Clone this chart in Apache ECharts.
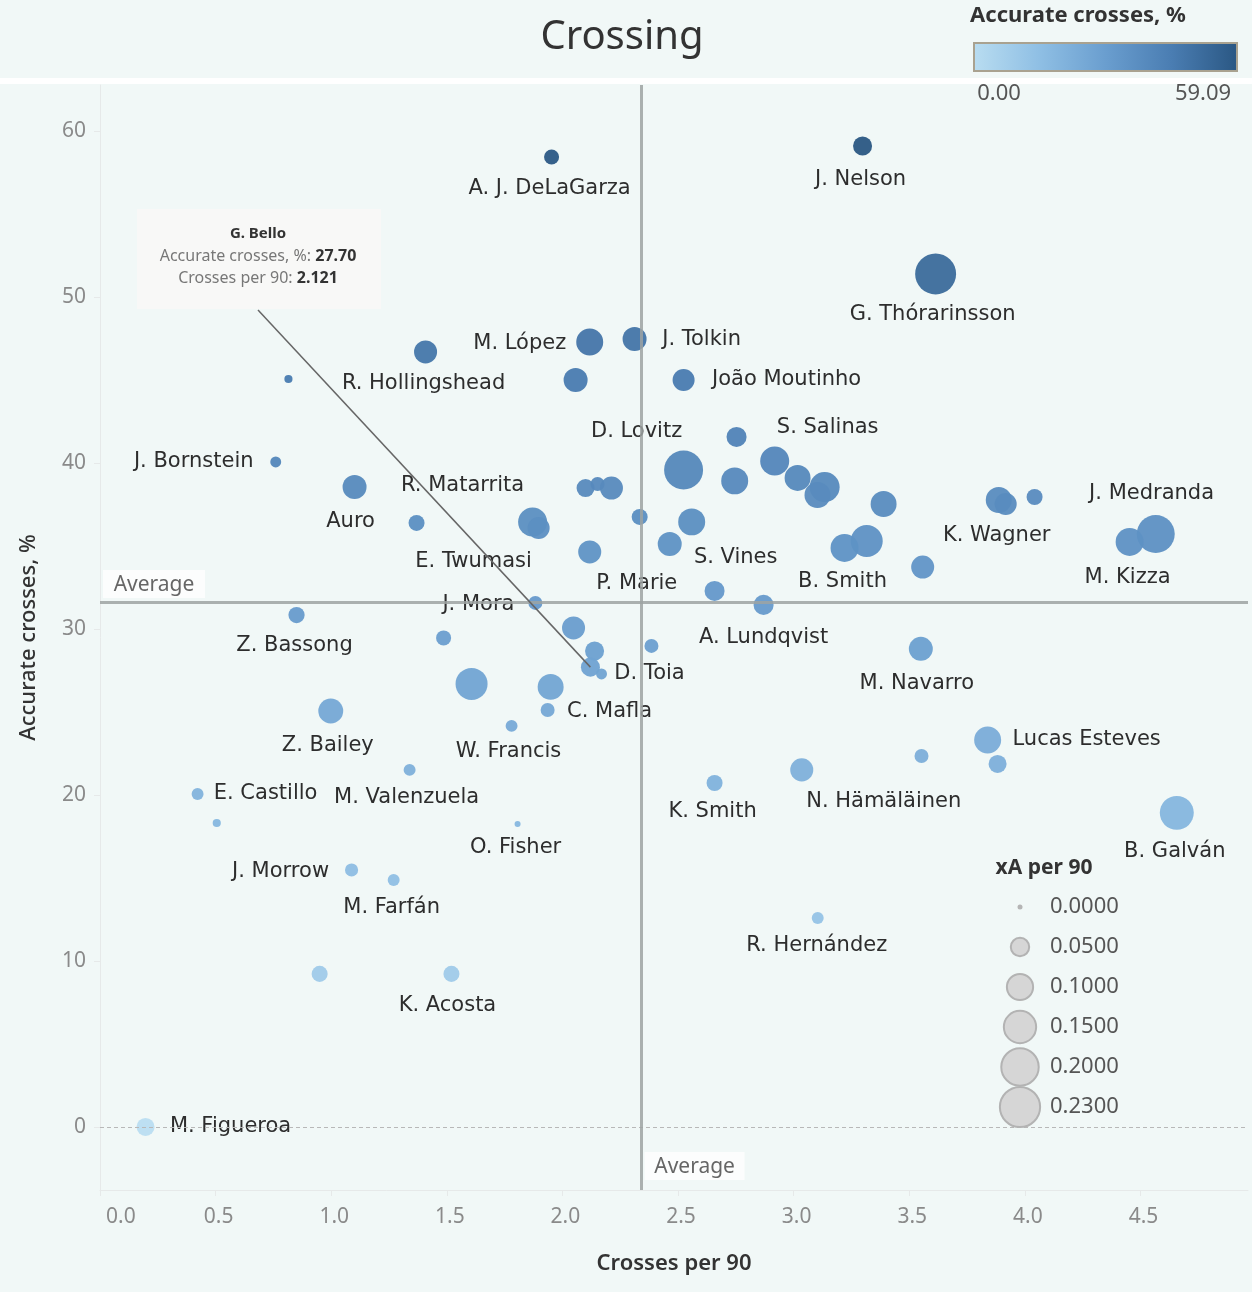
<!DOCTYPE html>
<html><head><meta charset="utf-8">
<script src="https://cdn.jsdelivr.net/npm/echarts@6/dist/echarts.min.js"></script>
<style>html,body{margin:0;padding:0;background:#f1f8f7}#c{width:1252px;height:1292px}</style>
</head><body><div id="c"></div>
<script>
// ---------- DATA ----------
const players = ['A. J. DeLaGarza','J. Nelson','G. Thórarinsson','M. López','J. Tolkin','R. Hollingshead','','','João Moutinho','',
 'D. Lovitz','','S. Salinas','','','','','','K. Wagner','J. Medranda',
 '','M. Kizza','','B. Smith','','S. Vines','','','A. Lundqvist','',
 'J. Bornstein','Auro','E. Twumasi','R. Matarrita','','','','','P. Marie','J. Mora',
 'Z. Bassong','','','','G. Bello','D. Toia','','','','C. Mafla',
 'W. Francis','Z. Bailey','M. Valenzuela','E. Castillo','','O. Fisher','J. Morrow','M. Farfán','','K. Acosta',
 'M. Figueroa','M. Navarro','Lucas Esteves','','','N. Hämäläinen','K. Smith','B. Galván','R. Hernández'];
const crossesPer90 = [1.953,3.298,3.614,2.118,2.312,1.408,0.815,2.057,2.524,2.753,
 2.524,2.745,2.918,3.017,3.134,3.103,3.389,3.887,3.917,4.042,
 4.566,4.453,3.316,3.220,3.558,2.559,2.464,2.658,2.870,2.334,
 0.760,1.101,1.369,2.100,2.152,2.212,1.871,1.897,2.118,1.883,
 0.850,1.486,2.048,2.139,2.121,2.169,2.385,1.607,1.949,1.936,
 1.780,0.998,1.339,0.422,0.505,1.806,1.088,1.270,0.950,1.520,
 0.197,3.550,3.839,3.882,3.553,3.035,2.658,4.657,3.104];
const accuracyPct = [58.43,59.09,51.39,47.29,47.47,46.69,45.06,45.00,45.00,41.57,
 39.58,38.92,40.12,39.10,38.55,38.07,37.53,37.77,37.53,37.95,
 35.72,35.24,35.30,34.88,33.73,36.45,35.12,32.29,31.45,36.75,
 40.06,38.55,36.39,38.49,38.73,38.49,36.45,36.08,34.64,31.57,
 30.84,29.46,30.06,28.67,27.70,27.29,28.98,26.69,26.51,25.12,
 24.16,25.06,21.51,20.06,18.31,18.25,15.48,14.88,9.22,9.22,
 0.00,28.80,23.31,21.87,22.35,21.51,20.72,18.92,12.59];
const xaPer90 = [0.025,0.043,0.216,0.091,0.071,0.065,0.004,0.071,0.059,0.048,
 0.195,0.091,0.106,0.084,0.114,0.084,0.084,0.084,0.059,0.029,
 0.185,0.098,0.130,0.098,0.065,0.091,0.071,0.048,0.048,0.029,
 0.011,0.071,0.029,0.038,0.021,0.065,0.106,0.059,0.065,0.021,
 0.030,0.025,0.065,0.043,0.043,0.011,0.021,0.130,0.084,0.021,
 0.014,0.077,0.014,0.014,0.004,0.000,0.018,0.014,0.029,0.029,
 0.038,0.071,0.091,0.038,0.021,0.065,0.029,0.147,0.014];
const xTicks = [0,0.5,1,1.5,2,2.5,3,3.5,4,4.5];
const yTicks = [0,10,20,30,40,50,60];
const sizeLegendValues = [0,0.05,0.1,0.15,0.2,0.23];
const sizeLegendLabels = ['0.0000','0.0500','0.1000','0.1500','0.2000','0.2300'];
const averageCrosses = 2.338;
const averageAccuracy = 31.63;
const colorMin = 0, colorMax = 59.09;
const colorLabels = ['0.00','59.09'];
const highlightName = 'G. Bello';

// ---------- STYLE / LAYOUT ----------
const colors = ['#b9ddf1','#8fbfe4','#6a9ecf','#4a7db2','#2a5783'];
const FONT = 'Noto Sans';
const LABEL_FONT = 'DejaVu Sans';
const labelOffsets = {
 'A. J. DeLaGarza':[-2,32],'J. Nelson':[-2,33],'G. Thórarinsson':[-3,41],'M. López':[-70,2],
 'J. Tolkin':[67,1],'R. Hollingshead':[-2,32],'João Moutinho':[103,0],'D. Lovitz':[-47,-38],
 'S. Salinas':[53,-33],'K. Wagner':[-9,32],'J. Medranda':[117,-3],'M. Kizza':[-2,36],
 'B. Smith':[-2,34],'S. Vines':[44,36],'A. Lundqvist':[0,33],'J. Bornstein':[-82,0],
 'Auro':[-4,35],'E. Twumasi':[57,39],'R. Matarrita':[-123,-2],'P. Marie':[47,32],
 'J. Mora':[-57,2],'Z. Bassong':[-2,31],'D. Toia':[48,0],'C. Mafla':[62,2],
 'W. Francis':[-3,26],'Z. Bailey':[-3,35],'M. Valenzuela':[-3,28],'E. Castillo':[68,0],
 'O. Fisher':[-2,24],'J. Morrow':[-71,2],'M. Farfán':[-2,28],'K. Acosta':[-4,32],
 'M. Figueroa':[85,0],'M. Navarro':[-4,35],'Lucas Esteves':[99,0],'N. Hämäläinen':[82,32],
 'K. Smith':[-2,29],'B. Galván':[-2,39],'R. Hernández':[-1,28]
};
const sizeOf = v => Math.sqrt(36 + 7600 * v);

const data = players.map((n, i) => ({
  name: n,
  value: [crossesPer90[i], accuracyPct[i], xaPer90[i]],
  label: { show: !!labelOffsets[n] }
}));
const hiIdx = players.indexOf(highlightName);

const chart = echarts.init(document.getElementById('c'), null, { renderer: 'canvas' });

const graphics = [
  { type: 'rect', shape: { x: 0, y: 78, width: 1252, height: 6 }, style: { fill: '#ffffff' }, z: 10 },
  { type: 'text', x: 622, y: 38, style: { text: 'Crossing', font: '40px "' + FONT + '"', fill: '#333', align: 'center', verticalAlign: 'middle' }, z: 10 },
  { type: 'text', x: 1078, y: 16, style: { text: 'Accurate crosses, %', font: 'bold 22px "' + FONT + '"', fill: '#333', align: 'center', verticalAlign: 'middle' }, z: 10 },
  { type: 'rect', shape: { x: 974, y: 43, width: 263, height: 28 }, style: {
      fill: new echarts.graphic.LinearGradient(0, 0, 1, 0, colors.map((c, i) => ({ offset: i / (colors.length - 1), color: c }))),
      stroke: '#a9a290', lineWidth: 2 }, z: 10 },
  { type: 'text', x: 999, y: 94, style: { text: colorLabels[0], font: '22px "' + FONT + '"', fill: '#555', align: 'center', verticalAlign: 'middle' }, z: 10 },
  { type: 'text', x: 1203, y: 94, style: { text: colorLabels[1], font: '22px "' + FONT + '"', fill: '#555', align: 'center', verticalAlign: 'middle' }, z: 10 },
  { type: 'text', x: 1044, y: 868, style: { text: 'xA per 90', font: 'bold 21px "' + FONT + '"', fill: '#333', align: 'center', verticalAlign: 'middle' }, z: 10 }
];
sizeLegendValues.forEach((v, i) => {
  const cy = 907 + 40 * i;
  const d = sizeOf(v);
  graphics.push({ type: 'circle', shape: { cx: 1020, cy: cy, r: Math.max(d / 2 - 1, 2.5) },
    style: v === 0 ? { fill: '#b5b5b5' } : { fill: '#d6d6d6', stroke: '#b3b3b3', lineWidth: 2 }, z: 10 });
  graphics.push({ type: 'text', x: 1050, y: cy, style: { text: sizeLegendLabels[i], font: '22px "' + FONT + '"', fill: '#555', align: 'left', verticalAlign: 'middle' }, z: 10 });
});
// annotation box
graphics.push({ type: 'rect', shape: { x: 137, y: 209, width: 244, height: 100 }, style: { fill: '#f8f8f7' }, z: 20 });
graphics.push({ type: 'text', x: 258, y: 256, z: 21, style: {
  text: '{n|' + highlightName + '}\n{k|Accurate crosses, %: }{v|' + accuracyPct[hiIdx].toFixed(2) + '}\n{k|Crosses per 90: }{v|' + crossesPer90[hiIdx].toFixed(3) + '}',
  align: 'center', verticalAlign: 'middle',
  rich: {
    n: { font: 'bold 15px "' + FONT + '"', fill: '#333', lineHeight: 22, align: 'center' },
    k: { font: '16px "' + FONT + '"', fill: '#777', lineHeight: 22 },
    v: { font: 'bold 16px "' + FONT + '"', fill: '#333', lineHeight: 22 }
  } } });

const option = {
  backgroundColor: '#f1f8f7',
  animation: false,
  textStyle: { fontFamily: FONT },
  grid: { left: 100, right: 4, top: 85, bottom: 102, containLabel: false },
  xAxis: {
    type: 'value', min: 0, max: 4.965,
    name: 'Crosses per 90', nameLocation: 'middle', nameGap: 63,
    nameTextStyle: { fontSize: 22, color: '#333', fontWeight: 600, fontFamily: FONT },
    splitLine: { show: false },
    axisLine: { show: true, onZero: false, lineStyle: { color: '#e6e9e9', width: 1 } },
    axisTick: { show: true, customValues: xTicks, length: 6, lineStyle: { color: '#e6e9e9' } },
    axisLabel: { customValues: xTicks, formatter: v => v.toFixed(1), color: '#8a8a8a', fontSize: 21, margin: 17, alignMinLabel: 'left', padding: [0, 0, 0, 6], fontFamily: FONT }
  },
  yAxis: {
    type: 'value', min: -3.8, max: 62.77,
    name: 'Accurate crosses, %', nameLocation: 'middle', nameGap: 60, nameRotate: 90,
    nameTextStyle: { fontSize: 22, color: '#333', fontWeight: 500, fontFamily: FONT },
    splitLine: { show: false },
    axisLine: { show: true, onZero: false, lineStyle: { color: '#e6e9e9', width: 1 } },
    axisTick: { show: true, customValues: yTicks, length: 6, lineStyle: { color: '#e6e9e9' } },
    axisLabel: { customValues: yTicks, formatter: v => String(v), color: '#8a8a8a', fontSize: 21, margin: 14, fontFamily: FONT }
  },
  visualMap: { show: false, type: 'continuous', seriesIndex: 0, dimension: 1, min: colorMin, max: colorMax, inRange: { color: colors } },
  series: [
    {
      type: 'scatter', z: 2,
      data: data,
      symbolSize: v => sizeOf(v[2]),
      itemStyle: { opacity: 0.95 },
      label: { position: 'inside', formatter: p => p.name, color: '#222', fontSize: 21, fontFamily: LABEL_FONT, textBorderWidth: 0 },
      labelLayout: p => {
        const off = labelOffsets[players[p.dataIndex]] || [0, 0];
        return {
          x: p.rect.x + p.rect.width / 2 + off[0],
          y: p.rect.y + p.rect.height / 2 + off[1],
          align: 'center', verticalAlign: 'middle', hideOverlap: false
        };
      },
      emphasis: { disabled: true }
    },
    {
      type: 'scatter', z: 5, data: [], silent: true,
      markLine: {
        silent: true, symbol: 'none', animation: false,
        label: { show: false },
        data: [
          { yAxis: 0, lineStyle: { color: '#b8b8b8', width: 1, type: [4, 3] } },
          { yAxis: averageAccuracy, lineStyle: { color: '#9ea3a2', width: 3, type: 'solid', opacity: 0.85 } },
          { xAxis: averageCrosses, lineStyle: { color: '#9ea3a2', width: 3, type: 'solid', opacity: 0.85 } },
          [ { coord: [crossesPer90[hiIdx], accuracyPct[hiIdx]], lineStyle: { color: '#666', width: 1.5, type: 'solid' } }, { x: 258, y: 310 } ]
        ]
      }
    }
  ],
  graphic: graphics
};
chart.setOption(option);

// Average labels positioned via the axes
const ph = chart.convertToPixel({ gridIndex: 0 }, [0, averageAccuracy]);
const pv = chart.convertToPixel({ gridIndex: 0 }, [averageCrosses, 0]);
const gridBottom = 1292 - 102;
graphics.push(
  { type: 'rect', shape: { x: 103, y: ph[1] - 32, width: 102, height: 28 }, style: { fill: '#ffffff', opacity: 0.75 }, z: 8 },
  { type: 'text', x: 154, y: ph[1] - 17, style: { text: 'Average', font: '21px "' + FONT + '"', fill: '#666', align: 'center', verticalAlign: 'middle' }, z: 9 },
  { type: 'rect', shape: { x: pv[0] + 4, y: gridBottom - 38, width: 100, height: 28 }, style: { fill: '#ffffff', opacity: 0.75 }, z: 8 },
  { type: 'text', x: pv[0] + 54, y: gridBottom - 23, style: { text: 'Average', font: '21px "' + FONT + '"', fill: '#666', align: 'center', verticalAlign: 'middle' }, z: 9 }
);
chart.setOption({ graphic: graphics }, { replaceMerge: ['graphic'] });
</script>
</body></html>
